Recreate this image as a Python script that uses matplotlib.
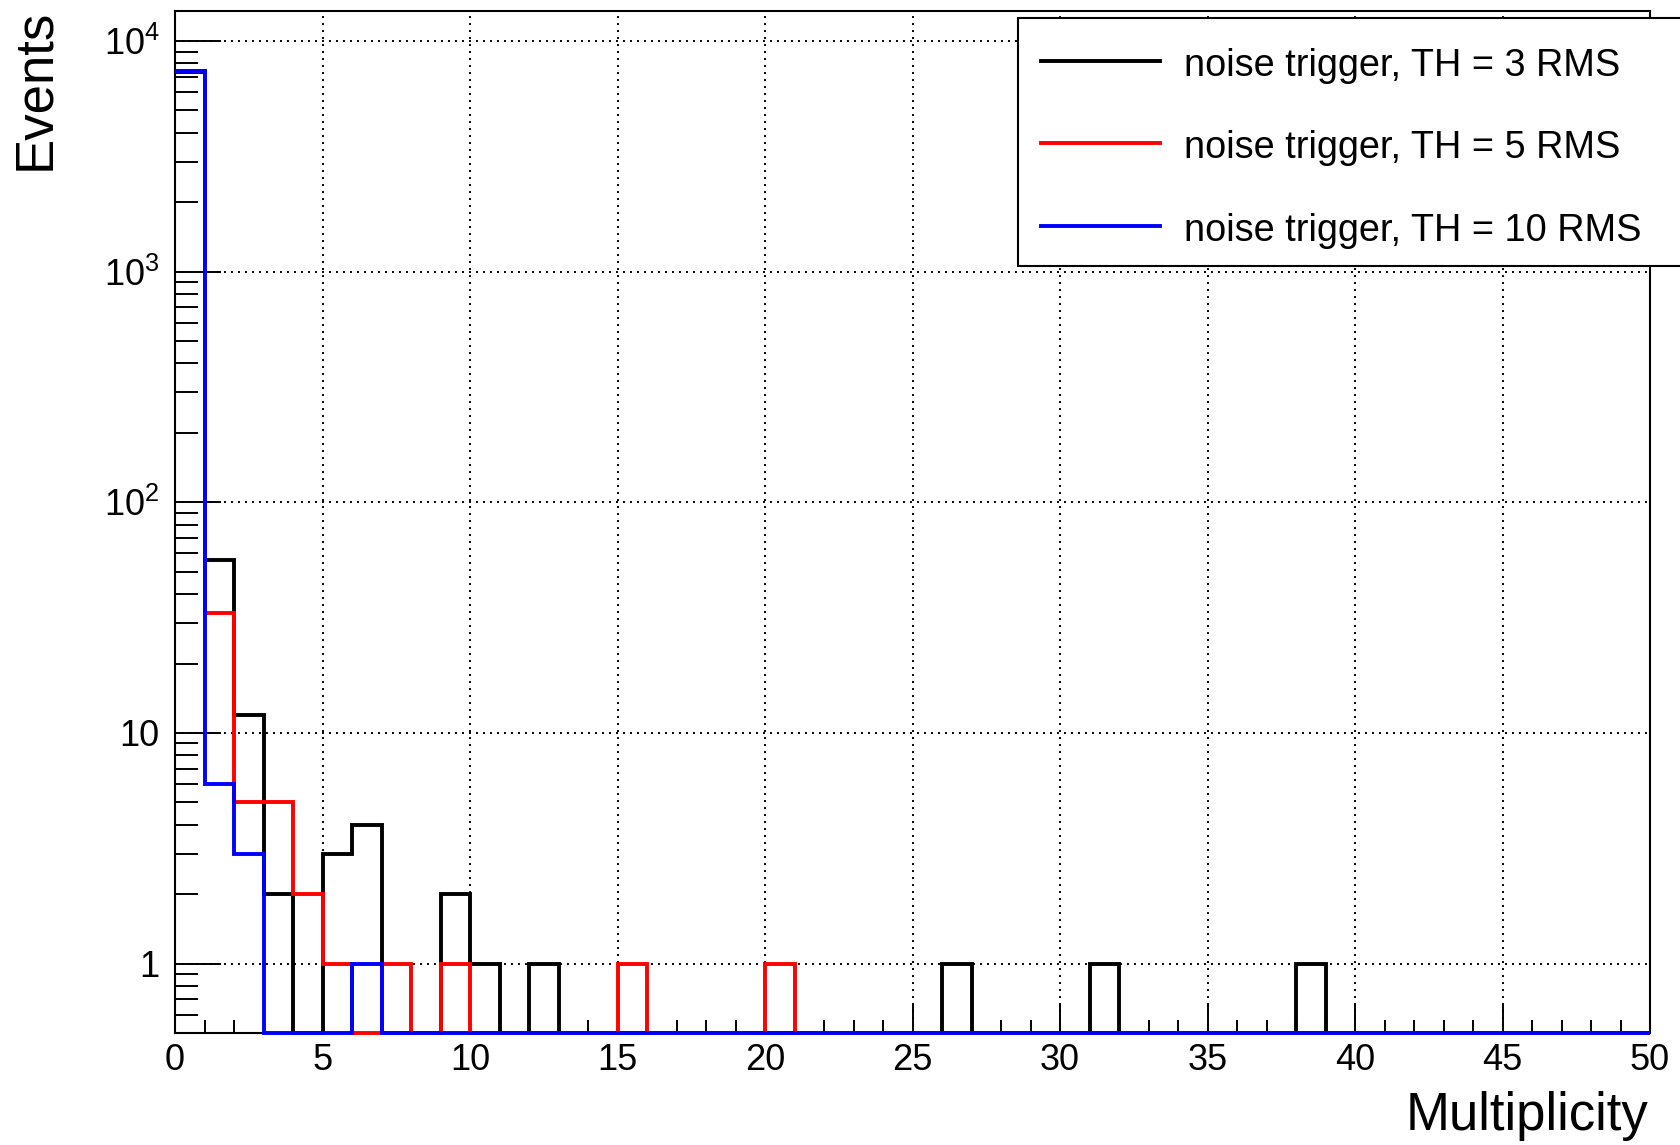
import numpy as np
import matplotlib
matplotlib.use("Agg")
import matplotlib.pyplot as plt
from matplotlib.ticker import MultipleLocator, LogLocator, FuncFormatter, NullFormatter
from matplotlib.patches import Rectangle
from matplotlib.lines import Line2D

plt.rcParams['font.family'] = ['Liberation Sans', 'DejaVu Sans']
plt.rcParams['mathtext.fontset'] = 'custom'
plt.rcParams['mathtext.rm'] = 'Liberation Sans'

# ---- data ----
bin_edges = list(range(0, 51))
labels = ["noise trigger, TH = 3 RMS",
          "noise trigger, TH = 5 RMS",
          "noise trigger, TH = 10 RMS"]
colors = ["black", "#ff0000", "#0000ff"]

counts_3rms = [7366, 56, 12, 2, 0, 3, 4, 0, 0, 2,
               1, 0, 1, 0, 0, 0, 0, 0, 0, 0,
               0, 0, 0, 0, 0, 0, 1, 0, 0, 0,
               0, 1, 0, 0, 0, 0, 0, 0, 1, 0,
               0, 0, 0, 0, 0, 0, 0, 0, 0, 0]
counts_5rms = [7400, 33, 5, 5, 2, 1, 0, 1, 0, 1,
               0, 0, 0, 0, 0, 1, 0, 0, 0, 0,
               1, 0, 0, 0, 0, 0, 0, 0, 0, 0,
               0, 0, 0, 0, 0, 0, 0, 0, 0, 0,
               0, 0, 0, 0, 0, 0, 0, 0, 0, 0]
counts_10rms = [7440, 6, 3, 0, 0, 0, 1, 0, 0, 0,
                0, 0, 0, 0, 0, 0, 0, 0, 0, 0,
                0, 0, 0, 0, 0, 0, 0, 0, 0, 0,
                0, 0, 0, 0, 0, 0, 0, 0, 0, 0,
                0, 0, 0, 0, 0, 0, 0, 0, 0, 0]

y_min, y_max = 0.5, 1.35e4
x_min, x_max = 0, 50

# ---- figure ----
W, H = 1680, 1145
fig = plt.figure(figsize=(W / 100, H / 100), dpi=100)
ax_l, ax_r, ax_t, ax_b = 175, 1650, 11, 1033
ax = fig.add_axes([ax_l / W, 1 - ax_b / H, (ax_r - ax_l) / W, (ax_b - ax_t) / H])

ax.set_yscale('log')
ax.set_xlim(x_min, x_max)
ax.set_ylim(y_min, y_max)

lw_hist = 2.8
for vals, col in zip([counts_3rms, counts_5rms, counts_10rms], colors):
    v = np.maximum(np.asarray(vals, dtype=float), y_min)
    ax.stairs(v, bin_edges, baseline=None, fill=False, color=col,
              linewidth=lw_hist, clip_on=False, zorder=3)

# grid
ax.grid(True, which='major', color='black', linestyle=(0, (1, 2.6)), linewidth=1.4)
ax.set_axisbelow(True)

# ticks
ax.xaxis.set_major_locator(MultipleLocator(5))
ax.xaxis.set_minor_locator(MultipleLocator(1))
ax.yaxis.set_major_locator(LogLocator(base=10, numticks=10))
ax.yaxis.set_minor_locator(LogLocator(base=10, subs=np.arange(2, 10), numticks=20))
ax.yaxis.set_minor_formatter(NullFormatter())


def yfmt(v, pos):
    if abs(v - 1) < 1e-9:
        return "1"
    if abs(v - 10) < 1e-9:
        return "10"
    e = int(round(np.log10(v)))
    return r"$\mathregular{10^{%d}}$" % e


ax.yaxis.set_major_formatter(FuncFormatter(yfmt))

ax.tick_params(axis='x', which='major', direction='in', length=20, width=1.4,
               labelsize=26, pad=7, top=False)
ax.tick_params(axis='x', which='minor', direction='in', length=9.5, width=1.4, top=False)
ax.tick_params(axis='y', which='major', direction='in', length=33, width=1.4,
               labelsize=26, pad=11, right=False)
ax.tick_params(axis='y', which='minor', direction='in', length=16.5, width=1.4, right=False)

for s in ax.spines.values():
    s.set_linewidth(1.5)
    s.set_color('black')

# axis titles
fig.text(1648 / W, 1 - 1130 / H, "Multiplicity", ha='right', va='baseline', fontsize=38)
fig.text(10 / W, 1 - 9 / H, "Events", rotation=90, ha='left', va='top', fontsize=38)

# legend box (ROOT-style, extends past right edge)
box_l, box_t, box_b, box_r = 1018, 18, 266, 1720
fig.patches.append(Rectangle((box_l / W, 1 - box_b / H), (box_r - box_l) / W,
                             (box_b - box_t) / H, transform=fig.transFigure,
                             facecolor='white', edgecolor='black', linewidth=1.5,
                             zorder=5))
entry_y = [61, 143, 226]
for lab, col, yy in zip(labels, colors, entry_y):
    fig.lines.append(Line2D([1041 / W, 1160 / W], [1 - yy / H, 1 - yy / H],
                            transform=fig.transFigure, color=col,
                            linewidth=lw_hist, zorder=6))
    fig.text(1184 / W, 1 - (yy + 15) / H, lab, ha='left', va='baseline',
             fontsize=27.3, zorder=6)

fig.savefig("out.png", dpi=100)
